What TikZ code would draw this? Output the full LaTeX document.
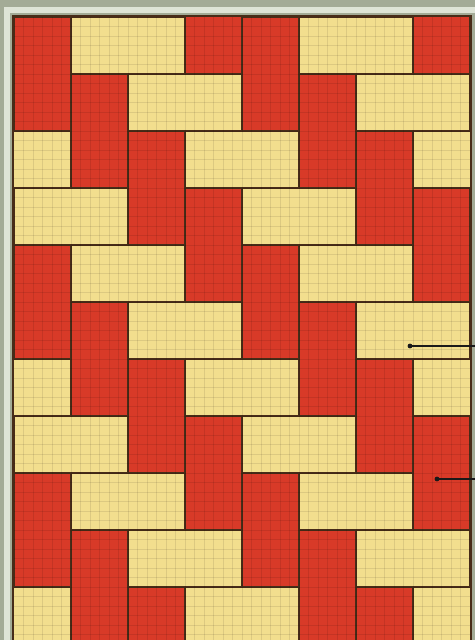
\documentclass[tikz,border=0pt]{standalone}
\usepackage{tikz}
\definecolor{brickred}{RGB}{216,58,40}
\definecolor{brickyellow}{RGB}{242,222,142}
\definecolor{mortar}{RGB}{72,44,24}
\definecolor{framegray}{RGB}{163,171,150}
\definecolor{framelight}{RGB}{222,228,214}
\tikzset{
  redbrick/.style={fill=brickred,draw=mortar,line width=2.2pt},
  yellowbrick/.style={fill=brickyellow,draw=mortar,line width=2.2pt},
  stitch/.style={black,opacity=0.09,line width=0.9pt},
  leader/.style={draw=black!90,line width=1.4pt},
}
\begin{document}
\begin{tikzpicture}[x=1pt,y=-1pt]
\useasboundingbox (0,0) rectangle (475,640);
% frame
\fill[framegray] (0,0) rectangle (475,640);
\fill[framelight] (4,7) rectangle (475,13);
\fill[framelight] (4,7) rectangle (10,640);
\fill[mortar] (12,15) rectangle (472,640);
% bricks
\begin{scope}
\clip (14,17) rectangle (470,640);
\foreach \r in {-1,...,11} {
  \foreach \c in {-2,...,8} {
    \pgfmathtruncatemacro\m{mod(\c-\r+40,4)}
    \pgfmathsetmacro\xa{14+57*\c}
    \pgfmathsetmacro\ya{17+57*\r}
    \ifnum\m=0
      \path[redbrick] (\xa,\ya) rectangle ++(57,114);
    \fi
    \ifnum\m=1
      \path[yellowbrick] (\xa,\ya) rectangle ++(114,57);
    \fi
  }
}
\foreach \i in {1,...,47} {\draw[stitch] (14+9.5*\i,17) -- ++(0,623);}
\foreach \i in {1,...,66} {\draw[stitch] (14,17+9.5*\i) -- ++(456,0);}
\end{scope}
\draw[mortar,line width=2.4pt] (13,640) -- (13,16) -- (471,16) -- (471,640);
% leader lines
\coordinate (p1) at (410,346);
\coordinate (e1) at (475,346);
\coordinate (p2) at (437,479);
\coordinate (e2) at (475,479);
\draw[leader] (p1) -- (e1);
\fill[black!90] (p1) circle (2.4);
\draw[leader] (p2) -- (e2);
\fill[black!90] (p2) circle (2.4);
\end{tikzpicture}
\end{document}
